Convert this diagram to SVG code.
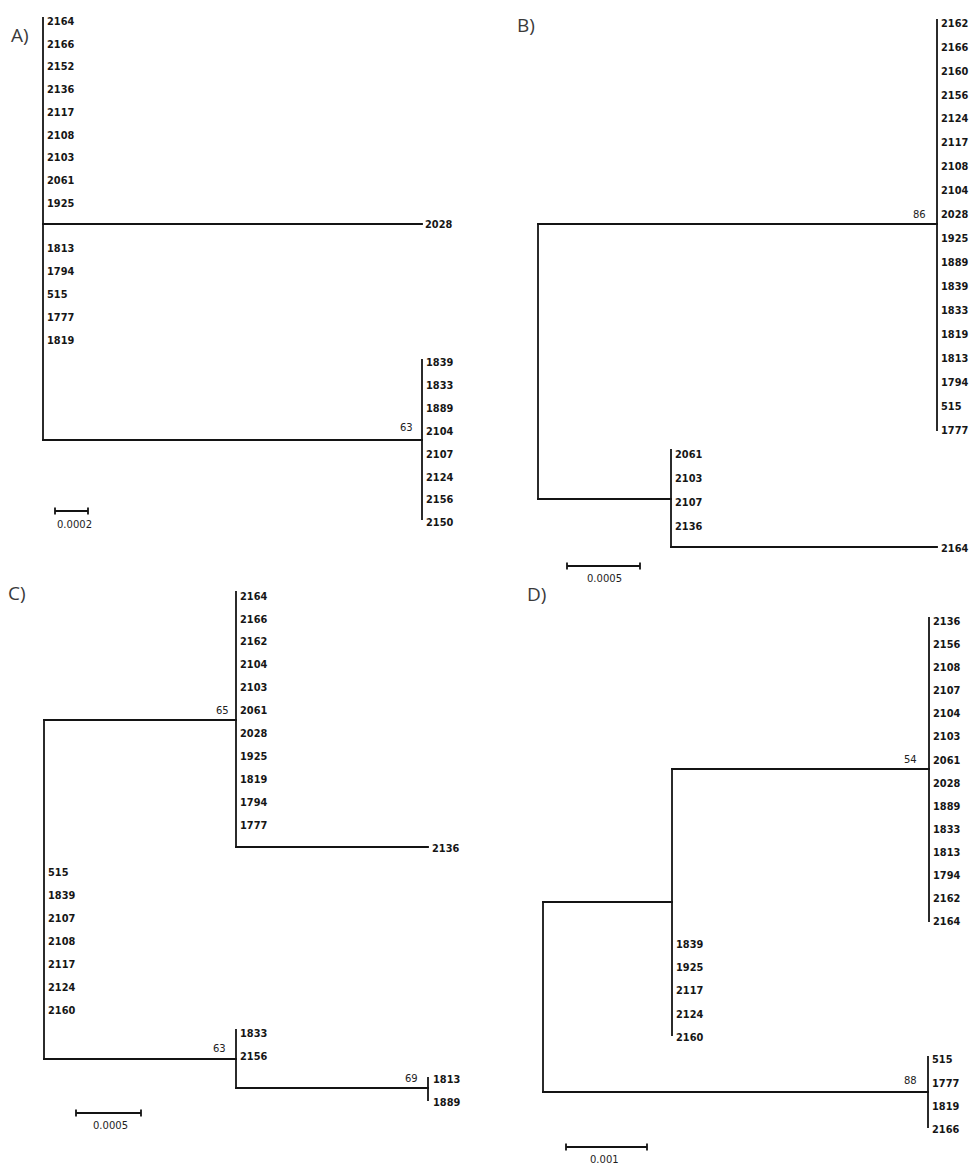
<svg xmlns="http://www.w3.org/2000/svg" width="971" height="1167" viewBox="0 0 971 1167">
<style>
.br{fill:none;stroke:#141414;stroke-width:1.8;stroke-linecap:square}
.sb{fill:none;stroke:#141414;stroke-width:1.8}
.tip{font-family:"DejaVu Sans",Verdana,sans-serif;font-size:9.8px;font-weight:bold;fill:#161616}
.sup{font-family:"DejaVu Sans",Verdana,sans-serif;font-size:10px;fill:#222}
.sc{font-family:"DejaVu Sans",Verdana,sans-serif;font-size:10px;fill:#1e1e1e}
.pl{font-family:"Open Sans","Liberation Sans",sans-serif;font-size:19px;fill:#3a3a3a}
</style>
<rect width="971" height="1167" fill="#fff"/>

<!-- Panel A -->
<g id="panelA">
<text class="pl" x="11" y="42">A)</text>
<g id="A-branches">
<path class="br" d="M43,18 V440"/>
<path class="br" d="M43,224 H422"/>
<path class="br" d="M43,440 H422"/>
<path class="br" d="M422,360 V519"/>
</g>
<g id="A-tips" class="tip">
<text x="47" y="25">2164</text>
<text x="47" y="48">2166</text>
<text x="47" y="70">2152</text>
<text x="47" y="93">2136</text>
<text x="47" y="116">2117</text>
<text x="47" y="139">2108</text>
<text x="47" y="161">2103</text>
<text x="47" y="184">2061</text>
<text x="47" y="207">1925</text>
<text x="425" y="228">2028</text>
<text x="47" y="252">1813</text>
<text x="47" y="275">1794</text>
<text x="47" y="298">515</text>
<text x="47" y="321">1777</text>
<text x="47" y="344">1819</text>
<text x="426" y="366">1839</text>
<text x="426" y="389">1833</text>
<text x="426" y="412">1889</text>
<text x="426" y="435">2104</text>
<text x="426" y="458">2107</text>
<text x="426" y="481">2124</text>
<text x="426" y="503">2156</text>
<text x="426" y="526">2150</text>
</g>
<text class="sup" x="400" y="431">63</text>
<g id="A-scale">
<path class="sb" d="M55,511 H88 M55,507.5 V514.5 M88,507.5 V514.5"/>
<text class="sc" x="57" y="528">0.0002</text>
</g>
</g>

<!-- Panel B -->
<g id="panelB">
<text class="pl" x="517" y="32">B)</text>
<g id="B-branches">
<path class="br" d="M538,224 V499"/>
<path class="br" d="M538,224 H937"/>
<path class="br" d="M937,20 V430"/>
<path class="br" d="M538,499 H671"/>
<path class="br" d="M671,450 V547"/>
<path class="br" d="M671,547 H937"/>
</g>
<g id="B-tips" class="tip">
<text x="941" y="27">2162</text>
<text x="941" y="51">2166</text>
<text x="941" y="75">2160</text>
<text x="941" y="99">2156</text>
<text x="941" y="122">2124</text>
<text x="941" y="146">2117</text>
<text x="941" y="170">2108</text>
<text x="941" y="194">2104</text>
<text x="941" y="218">2028</text>
<text x="941" y="242">1925</text>
<text x="941" y="266">1889</text>
<text x="941" y="290">1839</text>
<text x="941" y="314">1833</text>
<text x="941" y="338">1819</text>
<text x="941" y="362">1813</text>
<text x="941" y="386">1794</text>
<text x="941" y="410">515</text>
<text x="941" y="434">1777</text>
<text x="675" y="458">2061</text>
<text x="675" y="482">2103</text>
<text x="675" y="506">2107</text>
<text x="675" y="530">2136</text>
<text x="941" y="552">2164</text>
</g>
<text class="sup" x="913" y="218">86</text>
<g id="B-scale">
<path class="sb" d="M567,566 H640 M567,562.5 V569.5 M640,562.5 V569.5"/>
<text class="sc" x="587" y="582">0.0005</text>
</g>
</g>

<!-- Panel C -->
<g id="panelC">
<text class="pl" x="8" y="600">C)</text>
<g id="C-branches">
<path class="br" d="M44,720 V1059"/>
<path class="br" d="M44,720 H236"/>
<path class="br" d="M236,592 V847"/>
<path class="br" d="M236,847 H428"/>
<path class="br" d="M44,1059 H236"/>
<path class="br" d="M236,1030 V1088"/>
<path class="br" d="M236,1088 H428"/>
<path class="br" d="M428,1078 V1100"/>
</g>
<g id="C-tips" class="tip">
<text x="240" y="600">2164</text>
<text x="240" y="623">2166</text>
<text x="240" y="645">2162</text>
<text x="240" y="668">2104</text>
<text x="240" y="691">2103</text>
<text x="240" y="714">2061</text>
<text x="240" y="737">2028</text>
<text x="240" y="760">1925</text>
<text x="240" y="783">1819</text>
<text x="240" y="806">1794</text>
<text x="240" y="829">1777</text>
<text x="432" y="852">2136</text>
<text x="48" y="876">515</text>
<text x="48" y="899">1839</text>
<text x="48" y="922">2107</text>
<text x="48" y="945">2108</text>
<text x="48" y="968">2117</text>
<text x="48" y="991">2124</text>
<text x="48" y="1014">2160</text>
<text x="240" y="1037">1833</text>
<text x="240" y="1060">2156</text>
<text x="433" y="1083">1813</text>
<text x="433" y="1106">1889</text>
</g>
<text class="sup" x="216" y="714">65</text>
<text class="sup" x="213" y="1052">63</text>
<text class="sup" x="405" y="1082">69</text>
<g id="C-scale">
<path class="sb" d="M76,1113 H141 M76,1109.5 V1116.5 M141,1109.5 V1116.5"/>
<text class="sc" x="93" y="1129">0.0005</text>
</g>
</g>

<!-- Panel D -->
<g id="panelD">
<text class="pl" x="527" y="601">D)</text>
<g id="D-branches">
<path class="br" d="M929,618 V921"/>
<path class="br" d="M672,769 H929"/>
<path class="br" d="M672,769 V1035"/>
<path class="br" d="M543,902 H672"/>
<path class="br" d="M543,902 V1092"/>
<path class="br" d="M543,1092 H928"/>
<path class="br" d="M928,1057 V1127"/>
</g>
<g id="D-tips" class="tip">
<text x="933" y="625">2136</text>
<text x="933" y="648">2156</text>
<text x="933" y="671">2108</text>
<text x="933" y="694">2107</text>
<text x="933" y="717">2104</text>
<text x="933" y="740">2103</text>
<text x="933" y="764">2061</text>
<text x="933" y="787">2028</text>
<text x="933" y="810">1889</text>
<text x="933" y="833">1833</text>
<text x="933" y="856">1813</text>
<text x="933" y="879">1794</text>
<text x="933" y="902">2162</text>
<text x="933" y="925">2164</text>
<text x="676" y="948">1839</text>
<text x="676" y="971">1925</text>
<text x="676" y="994">2117</text>
<text x="676" y="1018">2124</text>
<text x="676" y="1041">2160</text>
<text x="932" y="1063">515</text>
<text x="932" y="1087">1777</text>
<text x="932" y="1110">1819</text>
<text x="932" y="1133">2166</text>
</g>
<text class="sup" x="904" y="763">54</text>
<text class="sup" x="904" y="1084">88</text>
<g id="D-scale">
<path class="sb" d="M566,1147 H647 M566,1143.5 V1150.5 M647,1143.5 V1150.5"/>
<text class="sc" x="590" y="1163">0.001</text>
</g>
</g>
</svg>
